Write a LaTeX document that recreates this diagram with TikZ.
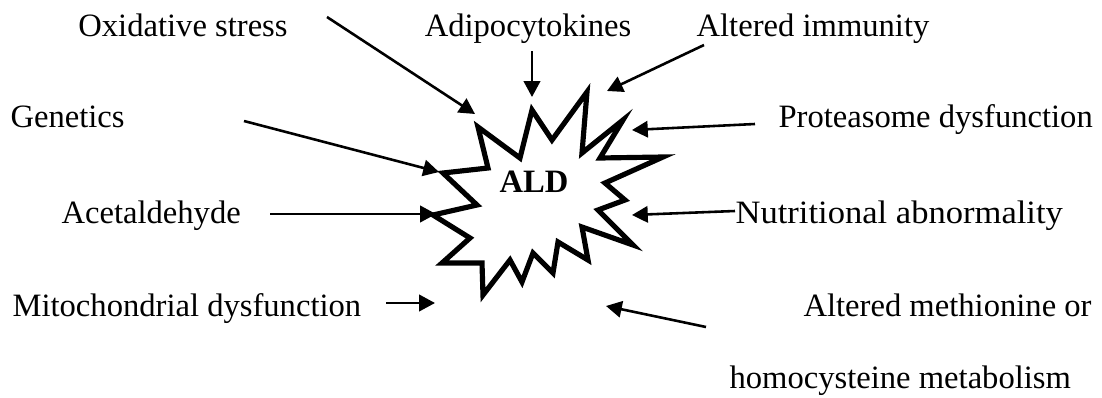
\documentclass[tikz,border=0pt]{standalone}
\usepackage{fontspec}
\setmainfont{Liberation Serif}
\usetikzlibrary{arrows.meta}
\begin{document}
\begin{tikzpicture}[x=0.368pt, y=-0.368pt, font=\fontsize{12}{14}\selectfont,
  lbl/.style={inner sep=0pt, anchor=base west},
  arr/.style={-{Triangle[length=5.8pt, width=6pt]}, line width=0.95pt},
  burst/.style={line width=1.9pt, line join=miter, miter limit=10}]
  \useasboundingbox (0,0) rectangle (1102,397);
  % central burst
  \draw[burst] (532,110) -- (552,140) -- (587,92) -- (582,153) -- (623,120) -- (600,158)
    -- (663,157) -- (605,183) -- (625,200) -- (598,210) -- (633,245) -- (582,227)
    -- (588,260) -- (558,242) -- (553,273) -- (533,253) -- (522,282) -- (510,260)
    -- (483,295) -- (482,263) -- (442,263) -- (470,238) -- (433,215) -- (477,205)
    -- (443,173) -- (488,168) -- (478,127) -- (520,158) -- cycle;
  \node[inner sep=0pt, anchor=base, font=\fontsize{12}{14}\selectfont\bfseries] (ald) at (534,192) {ALD};
  % factors
  \node[lbl, anchor=base] (oxi) at (183,36) {Oxidative stress};
  \node[lbl, anchor=base] (adi) at (528,36) {Adipocytokines};
  \node[lbl, anchor=base] (imm) at (813,36) {Altered immunity};
  \node[lbl] (gen) at (10,127) {Genetics};
  \node[lbl] (pro) at (778,127) {Proteasome dysfunction};
  \node[lbl] (ace) at (61,223) {Acetaldehyde};
  \node[lbl, xscale=1.06, transform shape] (nut) at (735,223) {Nutritional abnormality};
  \node[lbl] (mit) at (12,316) {Mitochondrial dysfunction};
  \node[lbl] (met) at (803,316) {Altered methionine or};
  \node[lbl] (hom) at (729,388) {homocysteine metabolism};
  % arrows into the burst
  \coordinate (oxi-a) at (327,17);  \coordinate (oxi-b) at (475,114);
  \coordinate (adi-a) at (532,51);  \coordinate (adi-b) at (532,97);
  \coordinate (imm-a) at (704,45);  \coordinate (imm-b) at (607,91);
  \coordinate (gen-a) at (244,121); \coordinate (gen-b) at (439,172);
  \coordinate (pro-a) at (755,124); \coordinate (pro-b) at (632,130);
  \coordinate (ace-a) at (270,214); \coordinate (ace-b) at (436,214);
  \coordinate (nut-a) at (735,211); \coordinate (nut-b) at (632,215);
  \coordinate (mit-a) at (386,303); \coordinate (mit-b) at (435,303);
  \coordinate (met-a) at (706,327); \coordinate (met-b) at (606,306);
  \foreach \f in {oxi,adi,imm,gen,pro,ace,nut,mit,met}
    \draw[arr] (\f-a) -- (\f-b);
\end{tikzpicture}
\end{document}
